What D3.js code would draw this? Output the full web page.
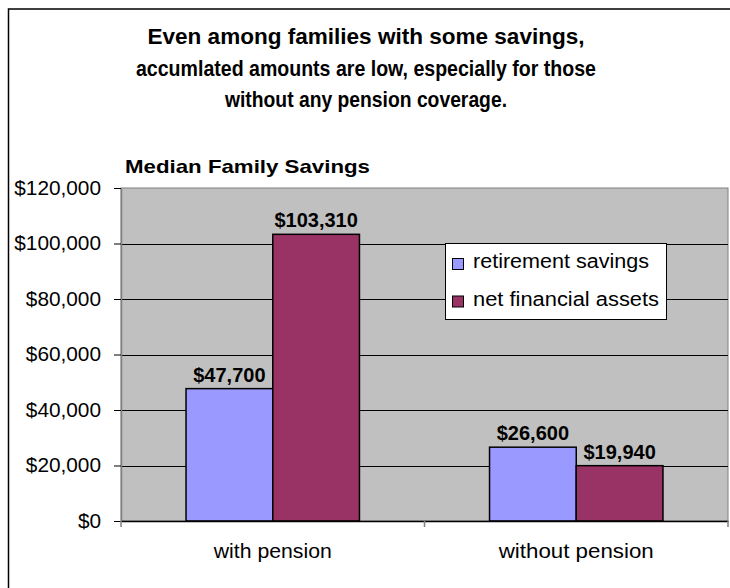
<!DOCTYPE html>
<html>
<head>
<meta charset="utf-8">
<script src="https://cdn.jsdelivr.net/npm/d3@7"></script>
<style>
  html, body { margin: 0; padding: 0; background: #fff; }
  svg { display: block; font-family: Arial, "Liberation Sans", sans-serif; }
</style>
</head>
<body>
<svg id="chart" width="730" height="588"></svg>
<script>
// Chart data
const categories = ["with pension", "without pension"];
const seriesNames = ["retirement savings", "net financial assets"];
const retirementSavings = [47700, 26600];
const netFinancialAssets = [103310, 19940];
const yTicks = [0, 20000, 40000, 60000, 80000, 100000, 120000];
const titleLines = [
  "Even among families with some savings,",
  "accumlated amounts are low, especially for those",
  "without any pension coverage."
];
const subtitle = "Median Family Savings";
const seriesColors = ["#9999FF", "#993366"];

const svg = d3.select("#chart");

// Stretch or squeeze a text element to a given width
function fitWidth(node, w) {
  node.setAttribute("textLength", w);
  node.setAttribute("lengthAdjust", "spacingAndGlyphs");
}

// Outer frame (right and bottom edges run past the canvas)
svg.append("rect")
  .attr("x", 8.5).attr("y", 9).attr("width", 760).attr("height", 620)
  .attr("fill", "#fff").attr("stroke", "#000").attr("stroke-width", 1.5);

// Plot geometry
const plot = { left: 121, right: 728, top: 188, bottom: 521 };

const x0 = d3.scaleBand().domain(categories)
  .range([plot.left, plot.right]).paddingInner(0).paddingOuter(0);
const barW = x0.bandwidth() / 3.5;
const x1 = d3.scaleBand().domain(seriesNames).range([0, 2 * barW]);
const y = d3.scaleLinear().domain([0, 120000]).range([plot.bottom, plot.top]);
const money = d => "$" + d3.format(",")(d);

// Plot background
svg.append("rect")
  .attr("x", plot.left).attr("y", plot.top)
  .attr("width", plot.right - plot.left).attr("height", plot.bottom - plot.top)
  .attr("fill", "#C0C0C0").attr("stroke", "#808080").attr("stroke-width", 1);

// Gridlines
svg.append("g").selectAll("line")
  .data(yTicks.filter(d => d > 0 && d < 120000))
  .join("line")
  .attr("x1", plot.left).attr("x2", plot.right)
  .attr("y1", d => Math.round(y(d)) + 0.5).attr("y2", d => Math.round(y(d)) + 0.5)
  .attr("stroke", "#000").attr("stroke-width", 1);

// Y axis
const yAxis = d3.axisLeft(y).tickValues(yTicks)
  .tickFormat(money)
  .tickSize(7).tickSizeOuter(0).tickPadding(13);
const yg = svg.append("g")
  .attr("transform", `translate(${plot.left},0)`)
  .call(yAxis);
yg.select(".domain").attr("stroke", "#808080").attr("stroke-width", 1.5);
yg.selectAll(".tick line").attr("stroke", "#000");
yg.selectAll(".tick text")
  .attr("font-size", 20).attr("fill", "#000")
  .attr("font-family", "Arial, 'Liberation Sans', sans-serif")
  .each(function () { fitWidth(this, this.getComputedTextLength() * 1.04); });

// Bars
const rows = categories.map((c, i) => ({
  category: c,
  values: [
    { series: seriesNames[0], value: retirementSavings[i], color: seriesColors[0] },
    { series: seriesNames[1], value: netFinancialAssets[i], color: seriesColors[1] }
  ]
}));

const groups = svg.append("g").selectAll("g")
  .data(rows).join("g")
  .attr("transform", d => `translate(${x0(d.category) + (x0.bandwidth() - 2 * barW) / 2},0)`);

groups.selectAll("rect")
  .data(d => d.values).join("rect")
  .attr("x", d => x1(d.series))
  .attr("y", d => y(d.value))
  .attr("width", x1.bandwidth())
  .attr("height", d => y(0) - y(d.value))
  .attr("fill", d => d.color)
  .attr("stroke", "#000").attr("stroke-width", 1.5);

groups.selectAll("text")
  .data(d => d.values).join("text")
  .attr("x", d => x1(d.series) + x1.bandwidth() / 2)
  .attr("y", d => y(d.value) - 7)
  .attr("text-anchor", "middle")
  .attr("font-size", 20).attr("font-weight", "bold")
  .text(d => money(d.value));

// X axis
const xAxis = d3.axisBottom(x0).tickSize(0).tickSizeOuter(0).tickFormat(() => "");
const xg = svg.append("g")
  .attr("transform", `translate(0,${plot.bottom})`)
  .call(xAxis);
xg.select(".domain").attr("stroke", "#000").attr("stroke-width", 1.5);
// Category boundary ticks
svg.append("g").selectAll("line")
  .data([...categories.map(c => x0(c)), plot.right])
  .join("line")
  .attr("x1", d => d).attr("x2", d => d)
  .attr("y1", plot.bottom).attr("y2", plot.bottom + 6)
  .attr("stroke", "#808080").attr("stroke-width", 1.5);
// Category labels
const catWidths = [118, 155];
svg.append("g").selectAll("text")
  .data(categories).join("text")
  .attr("x", d => x0(d) + x0.bandwidth() / 2)
  .attr("y", 558)
  .attr("text-anchor", "middle")
  .attr("font-size", 20)
  .text(d => d)
  .each(function (d, i) { fitWidth(this, catWidths[i]); });

// Title
const titleWidths = [437, 460, 282];
svg.append("g").selectAll("text")
  .data(titleLines).join("text")
  .attr("x", 366)
  .attr("y", (d, i) => 44 + i * 31.5)
  .attr("text-anchor", "middle")
  .attr("font-size", 22).attr("font-weight", "bold")
  .text(d => d)
  .each(function (d, i) { fitWidth(this, titleWidths[i]); });

// Subtitle
svg.append("text")
  .attr("x", 125).attr("y", 173)
  .attr("font-size", 19).attr("font-weight", "bold")
  .text(subtitle)
  .each(function () { fitWidth(this, 245); });

// Legend
const legend = svg.append("g").attr("transform", "translate(445,243)");
legend.append("rect")
  .attr("x", 0.5).attr("y", 0.5).attr("width", 221).attr("height", 76)
  .attr("fill", "#fff").attr("stroke", "#000").attr("stroke-width", 1);
const legendWidths = [176, 186];
const li = legend.selectAll("g.item")
  .data(seriesNames).join("g").attr("class", "item")
  .attr("transform", (d, i) => `translate(0,${i * 37.5})`);
li.append("rect")
  .attr("x", 7.5).attr("y", 15.5).attr("width", 11).attr("height", 11)
  .attr("fill", (d, i) => seriesColors[i])
  .attr("stroke", "#000").attr("stroke-width", 1);
li.append("text")
  .attr("x", 28).attr("y", 25)
  .attr("font-size", 20)
  .text(d => d)
  .each(function (d, i) { fitWidth(this, legendWidths[i]); });
</script>
</body>
</html>
